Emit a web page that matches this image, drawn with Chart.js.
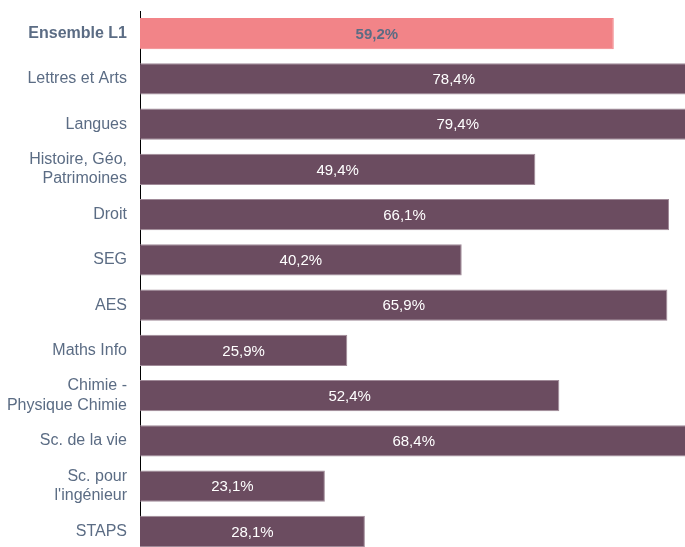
<!DOCTYPE html>
<html>
<head>
<meta charset="utf-8">
<script src="https://cdn.jsdelivr.net/npm/chart.js@4"></script>
<style>
  html, body { margin: 0; padding: 0; background: #fff; overflow: hidden; }
  #wrap { width: 685px; height: 554px; }
</style>
</head>
<body>
<div id="wrap"><canvas id="chart" width="685" height="554"></canvas></div>
<script>
// Taux de réussite par filière (L1)
var categories = [
  'Ensemble L1',
  'Lettres et Arts',
  'Langues',
  ['Histoire, Géo,', 'Patrimoines'],
  'Droit',
  'SEG',
  'AES',
  'Maths Info',
  ['Chimie -', 'Physique Chimie'],
  'Sc. de la vie',
  ['Sc. pour', "l'ingénieur"],
  'STAPS'
];
var values = [59.2, 78.4, 79.4, 49.4, 66.1, 40.2, 65.9, 25.9, 52.4, 68.4, 23.1, 28.1];

var PINK = '#f28488';
var PURPLE = '#6b4c60';
var SLATE = '#5b6c84';
var FONT = '"Liberation Sans", Arial, sans-serif';

function fmt(v) {
  return v.toFixed(1).replace('.', ',') + '%';
}

// draws the value in the middle of each full bar (even when the bar is cut off)
var valueLabels = {
  id: 'valueLabels',
  afterDatasetsDraw: function(chart) {
    var ctx = chart.ctx;
    var xs = chart.scales.x;
    var meta = chart.getDatasetMeta(0);
    ctx.save();
    ctx.textAlign = 'center';
    ctx.textBaseline = 'middle';
    meta.data.forEach(function(bar, i) {
      var v = values[i];
      ctx.font = (i === 0 ? 'bold ' : '') + '15px ' + FONT;
      ctx.fillStyle = i === 0 ? SLATE : '#ffffff';
      ctx.fillText(fmt(v), xs.getPixelForValue(v / 2), bar.y + 1);
    });
    ctx.restore();
  }
};

new Chart(document.getElementById('chart'), {
  type: 'bar',
  data: {
    labels: categories,
    datasets: [{
      data: values,
      backgroundColor: values.map(function(v, i) { return i === 0 ? PINK : PURPLE; }),
      borderColor: values.map(function(v, i) { return i === 0 ? PINK : '#a08a98'; }),
      borderWidth: { top: 1, bottom: 1, left: 0, right: 1 },
      borderSkipped: 'left',
      barPercentage: 0.686,
      categoryPercentage: 1
    }]
  },
  options: {
    indexAxis: 'y',
    responsive: false,
    animation: false,
    events: [],
    layout: { padding: { top: 11, left: 0, right: 0, bottom: 0 } },
    plugins: {
      legend: { display: false },
      tooltip: { enabled: false }
    },
    scales: {
      x: {
        display: false,
        min: 0,
        max: 68.1
      },
      y: {
        afterFit: function(scale) {
          scale.width = 140;
          scale.paddingTop = 0;
          scale.paddingBottom = 0;
        },
        grid: { display: false, drawTicks: false },
        border: { display: true, color: '#000000', width: 1 },
        ticks: {
          padding: 13,
          color: SLATE,
          font: function(c) {
            return { family: FONT, size: 16, weight: c.index === 0 ? 'bold' : 'normal', lineHeight: 1.2 };
          }
        }
      }
    }
  },
  plugins: [valueLabels]
});
</script>
</body>
</html>
